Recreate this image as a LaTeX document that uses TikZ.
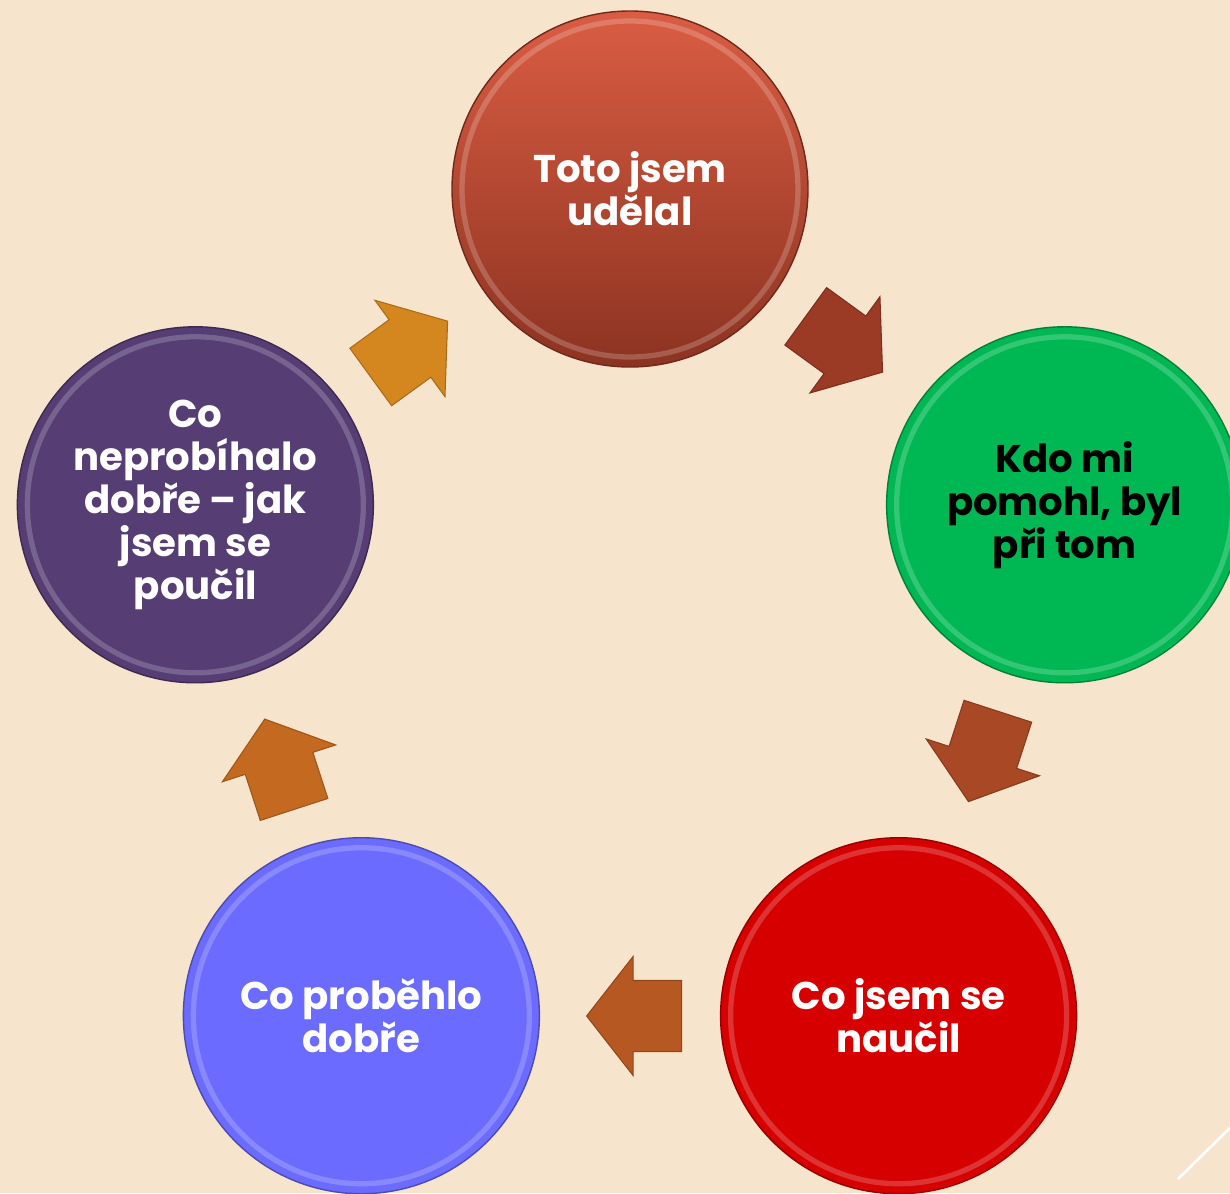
\documentclass[tikz,border=0pt]{standalone}
\usepackage{fontspec}
\setmainfont{Poppins}
\usetikzlibrary{shapes.geometric, shapes.arrows, calc, positioning}

\definecolor{paper}{HTML}{F7E4CC}
\definecolor{doneTop}{HTML}{DA5D43}
\definecolor{doneBot}{HTML}{8C3321}
\definecolor{helpFill}{HTML}{00B853}
\definecolor{learnFill}{HTML}{D60000}
\definecolor{wellFill}{HTML}{6B6BFF}
\definecolor{wrongFill}{HTML}{563D73}
\definecolor{turnA}{HTML}{9B3B25}
\definecolor{turnB}{HTML}{A84825}
\definecolor{turnC}{HTML}{B65822}
\definecolor{turnD}{HTML}{C36A20}
\definecolor{turnE}{HTML}{D4861F}

\tikzstyle{stage} = [circle, minimum size=7.12cm, inner sep=0pt, align=center, text=white, font=\fontsize{22}{24.5}\selectfont\bfseries, line width=0.8pt]
\tikzstyle{rim} = [path picture={\draw[white, opacity=0.2, line width=3pt] (path picture bounding box.center) circle (3.36cm);}]
\tikzstyle{turn} = [single arrow, inner xsep=0pt, inner ysep=0.7cm, single arrow head extend=0.48cm, single arrow tip angle=104, minimum height=1.9cm, line width=0.6pt]

\begin{document}
\begin{tikzpicture}
\useasboundingbox (-12.6, -10.94) rectangle (12.0, 12.92);
\fill[paper] (-12.6, -10.94) rectangle (12.0, 12.92);

  \coordinate (hub) at (0, 0);

  \node[stage, rim, top color=doneTop, bottom color=doneBot, draw=doneBot!80!black] (done) at ($(hub) + (90:9.14)$) {Toto jsem\\udělal};
  \node[stage, rim, fill=helpFill, draw=helpFill!70!black, text=black] (helpers) at ($(hub) + (18:9.14)$) {Kdo mi\\pomohl, byl\\při tom};
  \node[stage, rim, fill=learnFill, draw=learnFill!70!black] (learned) at ($(hub) + (-54:9.14)$) {Co jsem se\\naučil};
  \node[stage, rim, fill=wellFill, draw=wellFill!70!black] (wentwell) at ($(hub) + (-126:9.14)$) {Co proběhlo\\dobře};
  \node[stage, rim, fill=wrongFill, draw=wrongFill!70!black] (wentwrong) at ($(hub) + (162:9.14)$) {Co\\neprobíhalo\\dobře – jak\\jsem se\\poučil};

  \node[turn, fill=turnA, draw=turnA!80!black, rotate=-36] (doneToHelp) at ($(hub) + (54:7.4) + (144:0.36)$) {};
  \node[turn, fill=turnB, draw=turnB!80!black, rotate=-108] (helpToLearn) at ($(hub) + (-18:7.4) + (72:0.36)$) {};
  \node[turn, fill=turnC, draw=turnC!80!black, rotate=180] (learnToWell) at ($(hub) + (-90:7.4) + (0:0.36)$) {};
  \node[turn, fill=turnD, draw=turnD!80!black, rotate=108] (wellToWrong) at ($(hub) + (198:7.4) + (-72:0.36)$) {};
  \node[turn, fill=turnE, draw=turnE!80!black, rotate=36] (wrongToDone) at ($(hub) + (126:7.4) + (-144:0.36)$) {};

  \coordinate (cornerA) at (10.96, -10.66);
  \coordinate (cornerB) at (12.1, -9.54);
  \draw[white, line width=1.5pt] (cornerA) -- (cornerB);

\end{tikzpicture}
\end{document}
